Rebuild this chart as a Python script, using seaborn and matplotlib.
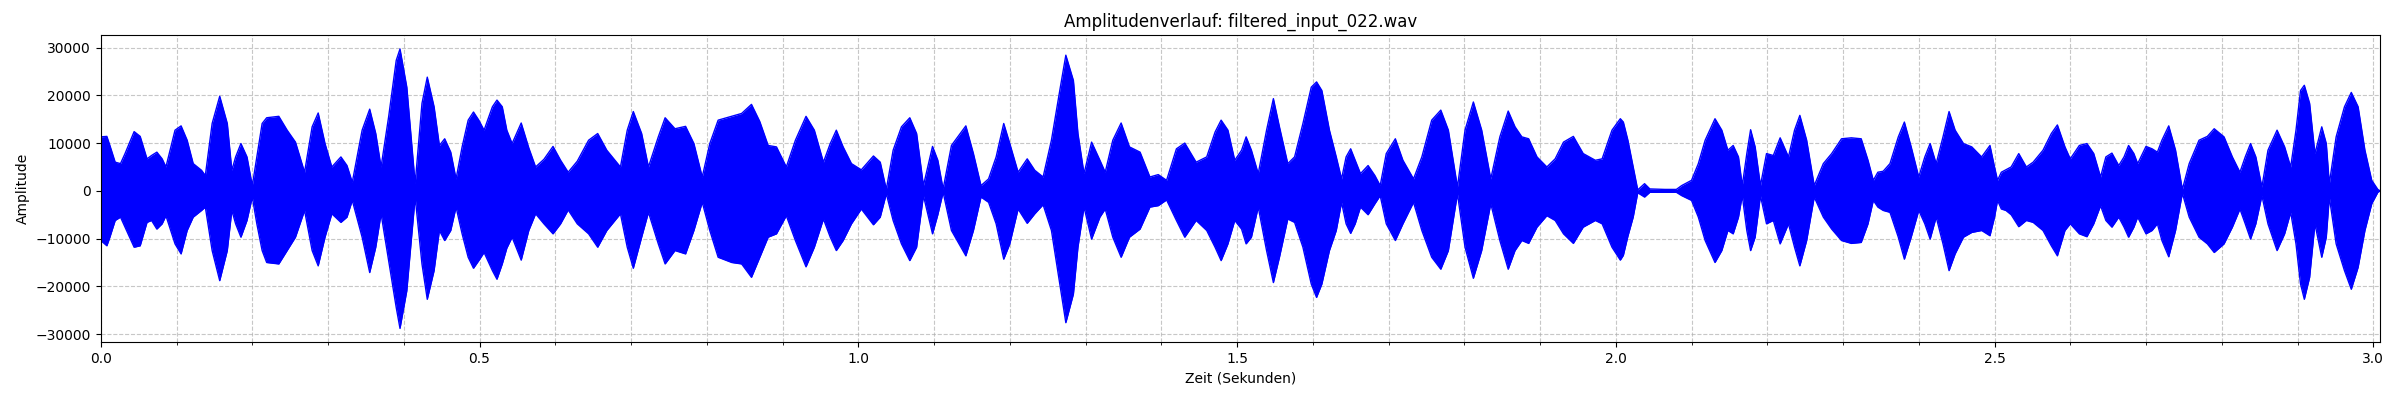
import matplotlib
matplotlib.use("Agg")
import matplotlib.pyplot as plt
from matplotlib.ticker import MultipleLocator
import seaborn as sns

title = "Amplitudenverlauf: filtered_input_022.wav"

# envelope of the waveform (seconds / sample amplitude)
time_s = [
    # 0.0 - 0.5
    0.000, 0.008, 0.012, 0.019, 0.026, 0.032, 0.044, 0.052, 0.061, 0.067,
    0.074, 0.081, 0.086, 0.098, 0.106, 0.114, 0.122, 0.133, 0.138, 0.147,
    0.157, 0.167, 0.173, 0.178, 0.185, 0.193, 0.200, 0.206, 0.213, 0.219,
    0.235, 0.246, 0.257, 0.269, 0.279, 0.287, 0.296, 0.305, 0.317, 0.325,
    0.332, 0.345, 0.355, 0.363, 0.370, 0.380, 0.390, 0.395, 0.404, 0.415,
    0.424, 0.431, 0.440, 0.447, 0.454, 0.462, 0.469, 0.477, 0.485, 0.492,
    0.499,
    # 0.5 - 1.0
    0.506, 0.517, 0.523, 0.530, 0.536, 0.543, 0.555, 0.565, 0.574, 0.585,
    0.597, 0.607, 0.617, 0.629, 0.644, 0.656, 0.668, 0.686, 0.695, 0.703,
    0.714, 0.723, 0.736, 0.745, 0.758, 0.772, 0.783, 0.794, 0.804, 0.815,
    0.833, 0.846, 0.859, 0.870, 0.881, 0.892, 0.905, 0.917, 0.931, 0.942,
    0.954, 0.963, 0.971, 0.980, 0.991,
    # 1.0 - 1.5
    1.004, 1.020, 1.029, 1.037, 1.046, 1.057, 1.068, 1.077, 1.086, 1.098,
    1.105, 1.112, 1.123, 1.142, 1.152, 1.162, 1.172, 1.182, 1.192, 1.200,
    1.211, 1.223, 1.233, 1.244, 1.255, 1.266, 1.274, 1.284, 1.290, 1.298,
    1.308, 1.319, 1.326, 1.336, 1.347, 1.358, 1.372, 1.385, 1.396, 1.407,
    1.420, 1.431, 1.446, 1.460, 1.471, 1.479, 1.488, 1.497,
    # 1.5 - 2.0
    1.506, 1.512, 1.519, 1.528, 1.539, 1.548, 1.556, 1.567, 1.576, 1.587,
    1.598, 1.605, 1.612, 1.622, 1.631, 1.638, 1.644, 1.650, 1.656, 1.663,
    1.673, 1.682, 1.689, 1.697, 1.709, 1.719, 1.733, 1.744, 1.757, 1.769,
    1.779, 1.791, 1.801, 1.812, 1.823, 1.835, 1.847, 1.858, 1.867, 1.876,
    1.885, 1.896, 1.909, 1.920, 1.931, 1.944, 1.957, 1.973, 1.982, 1.995,
    # 2.0 - 2.5
    2.006, 2.010, 2.016, 2.023, 2.029, 2.038, 2.045, 2.065, 2.080, 2.087,
    2.100, 2.109, 2.118, 2.131, 2.140, 2.148, 2.155, 2.162, 2.167, 2.173,
    2.178, 2.184, 2.191, 2.199, 2.208, 2.217, 2.228, 2.236, 2.243, 2.252,
    2.262, 2.274, 2.285, 2.298, 2.311, 2.324, 2.333, 2.340, 2.346, 2.353,
    2.362, 2.373, 2.381, 2.390, 2.400, 2.408, 2.415, 2.423, 2.432, 2.440,
    2.448, 2.459, 2.470, 2.483, 2.494, 2.500,
    # 2.5 - end
    2.504, 2.509, 2.515, 2.522, 2.532, 2.542, 2.551, 2.564, 2.575, 2.583,
    2.593, 2.600, 2.612, 2.622, 2.631, 2.640, 2.647, 2.655, 2.664, 2.671,
    2.677, 2.684, 2.689, 2.700, 2.708, 2.715, 2.721, 2.730, 2.739, 2.748,
    2.757, 2.770, 2.781, 2.790, 2.803, 2.814, 2.824, 2.831, 2.838, 2.845,
    2.853, 2.861, 2.873, 2.883, 2.891, 2.898, 2.904, 2.909, 2.916, 2.923,
    2.932, 2.938, 2.942, 2.951, 2.962, 2.971, 2.980, 2.989, 2.998, 3.006,
    3.009,
]

env_upper = [
    11300, 11400, 9500, 6000, 5700, 7800, 12400, 11400, 6700, 7400,
    8100, 6700, 5000, 12700, 13600, 10600, 5700, 4300, 3200, 14100,
    19800, 14100, 4300, 7100, 9900, 7100, 1100, 7100, 14100, 15300,
    15600, 12700, 10200, 3900, 13400, 16300, 9900, 5000, 7100, 5300,
    1800, 12700, 17100, 12000, 5000, 15500, 27300, 29700, 21700, 1500,
    18300, 23800, 17600, 9500, 10900, 8100, 2500, 9200, 14800, 16500,
    14800,
    12700, 17600, 19000, 17600, 12700, 9900, 14200, 9000, 5000, 6600,
    9300, 6400, 3900, 6200, 10600, 12000, 8500, 5000, 12700, 16600,
    12000, 5000, 11300, 15300, 13000, 13500, 9900, 2900, 9900, 14800,
    15600, 16200, 18100, 14500, 9500, 9200, 5000, 10600, 15600, 12700,
    6000, 9900, 12700, 9200, 5700,
    4400, 7300, 6000, 300, 8500, 13400, 15300, 12000, 1100, 9300,
    6400, 400, 9500, 13600, 7800, 1100, 2500, 7100, 14100, 9900,
    3900, 6700, 4300, 2900, 10600, 21000, 28400, 23100, 12000, 3600,
    10200, 6400, 3900, 10600, 14200, 9200, 8100, 2900, 3400, 2200,
    8800, 10000, 6000, 7100, 12300, 14800, 12700, 6400,
    8500, 11300, 8500, 3600, 12700, 19300, 13400, 5700, 7100, 14100,
    21700, 22800, 21000, 12700, 7100, 2500, 7100, 8800, 6400, 3600,
    5300, 3200, 1100, 7800, 10900, 6400, 2500, 7100, 14800, 16900,
    12700, 800, 12700, 18600, 12700, 2500, 11300, 16700, 13400, 11300,
    10900, 7100, 5000, 6700, 10200, 11400, 7800, 6400, 6700, 12700,
    15100, 14400, 10600, 5000, 200, 1500, 400, 300, 300, 1100,
    2200, 5700, 10600, 15100, 12700, 8500, 9500, 7100, 1100, 7800,
    12800, 9200, 1100, 7800, 7400, 11100, 7100, 12700, 15800, 10600,
    1100, 5700, 7800, 10900, 11100, 10900, 6400, 2200, 3900, 4100,
    5700, 11300, 14400, 9200, 2900, 7100, 9900, 5700, 11300, 16600,
    12700, 9900, 9200, 7100, 9500, 5000,
    2200, 3900, 4400, 5000, 7800, 5000, 6000, 8500, 12000, 13800,
    9200, 6700, 9500, 9900, 7800, 2900, 7100, 7900, 5300, 7100,
    9500, 7800, 5700, 9300, 8800, 8100, 10600, 13600, 8500, 300,
    5700, 10600, 11400, 13000, 11300, 7100, 3900, 7100, 9900, 7100,
    800, 8500, 12700, 9200, 5000, 12700, 21000, 22100, 18300, 7800,
    13400, 9900, 1500, 11300, 17600, 20600, 17600, 8500, 2200, 300,
    0,
]

env_lower = [
    -10400, -11500, -9700, -6200, -5500, -7600, -11800, -11500, -6600, -6200,
    -8000, -6900, -5200, -11100, -13200, -8300, -5500, -4100, -3400, -12500,
    -18800, -12500, -4100, -6900, -9700, -6200, -1300, -6900, -12500, -15000,
    -15300, -12500, -9700, -4100, -12500, -15700, -9700, -4800, -6600, -5500,
    -2000, -9700, -17100, -11800, -4800, -14600, -24400, -28800, -20900, -1300,
    -15300, -22700, -16700, -8300, -10400, -8300, -3400, -9000, -13900, -16200,
    -14600,
    -12900, -16700, -18500, -15300, -12000, -9700, -14500, -8300, -4800, -6900,
    -9000, -6900, -4000, -6900, -9000, -11800, -8300, -4800, -11800, -16200,
    -9700, -4500, -11100, -15300, -12500, -13200, -8300, -2400, -8300, -13900,
    -15000, -15300, -18100, -13900, -9700, -9000, -5200, -10400, -15900, -11800,
    -5900, -9700, -12500, -10400, -6900,
    -3800, -7100, -5500, -600, -6200, -11100, -14600, -11800, -1000, -9000,
    -5000, -300, -8300, -13600, -8300, -1300, -2400, -6900, -14300, -11100,
    -3800, -6800, -4800, -2900, -8300, -19500, -27600, -21600, -11800, -3400,
    -10100, -5500, -3800, -9700, -13900, -9700, -8000, -3400, -3100, -1900,
    -6200, -9700, -6200, -8300, -11800, -14600, -11100, -6200,
    -8000, -11100, -9700, -3400, -12500, -19200, -13900, -5900, -6600, -11800,
    -19500, -22300, -19500, -12500, -8300, -2400, -6900, -8900, -6900, -3400,
    -5000, -2700, -1000, -6900, -10400, -6900, -2400, -8300, -13900, -16400,
    -12500, -600, -11800, -18300, -12500, -2700, -10400, -16400, -12500, -10400,
    -11000, -7600, -5200, -6200, -9000, -11000, -7600, -6200, -6900, -11800,
    -14500, -13500, -9500, -5500, -400, -1300, -300, -300, -300, -1000,
    -2000, -5500, -10400, -15000, -12500, -8300, -9000, -5500, -1000, -8300,
    -12500, -9700, -1000, -6900, -6200, -11100, -6900, -11800, -15700, -10400,
    -1300, -5500, -8000, -10400, -11000, -10800, -6900, -2000, -3400, -4100,
    -4500, -9700, -14300, -9700, -4100, -6900, -10100, -5500, -11100, -16700,
    -13200, -9700, -8700, -8300, -9400, -5500,
    -2000, -3800, -4100, -5000, -7500, -6200, -6600, -8300, -11500, -13600,
    -8300, -6900, -9000, -9600, -6900, -3100, -6200, -7600, -5500, -7600,
    -9700, -7600, -5500, -9000, -8300, -6900, -10400, -13800, -8300, -500,
    -5500, -9700, -11100, -12900, -11100, -7600, -3800, -6900, -10100, -6900,
    -1000, -6900, -12500, -9000, -4500, -11100, -19500, -22700, -18100, -6900,
    -13900, -9700, -1300, -11100, -16700, -20600, -16000, -8300, -2700, -300,
    0,
]

fig, ax = plt.subplots(figsize=(24, 4), dpi=100)

ax.fill_between(time_s, env_lower, env_upper, color="blue", linewidth=0, zorder=2)
sns.lineplot(x=time_s, y=env_upper, color="blue", linewidth=1, ax=ax, zorder=2)
sns.lineplot(x=time_s, y=env_lower, color="blue", linewidth=1, ax=ax, zorder=2)

ax.set_title(title)
ax.set_xlabel("Zeit (Sekunden)")
ax.set_ylabel("Amplitude")
ax.set_xlim(0, time_s[-1])
ax.xaxis.set_major_locator(MultipleLocator(0.5))
ax.xaxis.set_minor_locator(MultipleLocator(0.1))
ax.grid(True, which="both", linestyle="--", alpha=0.7)

fig.subplots_adjust(left=0.042, right=0.9917, top=0.9125, bottom=0.144)
fig.savefig("out.png", dpi=100)
